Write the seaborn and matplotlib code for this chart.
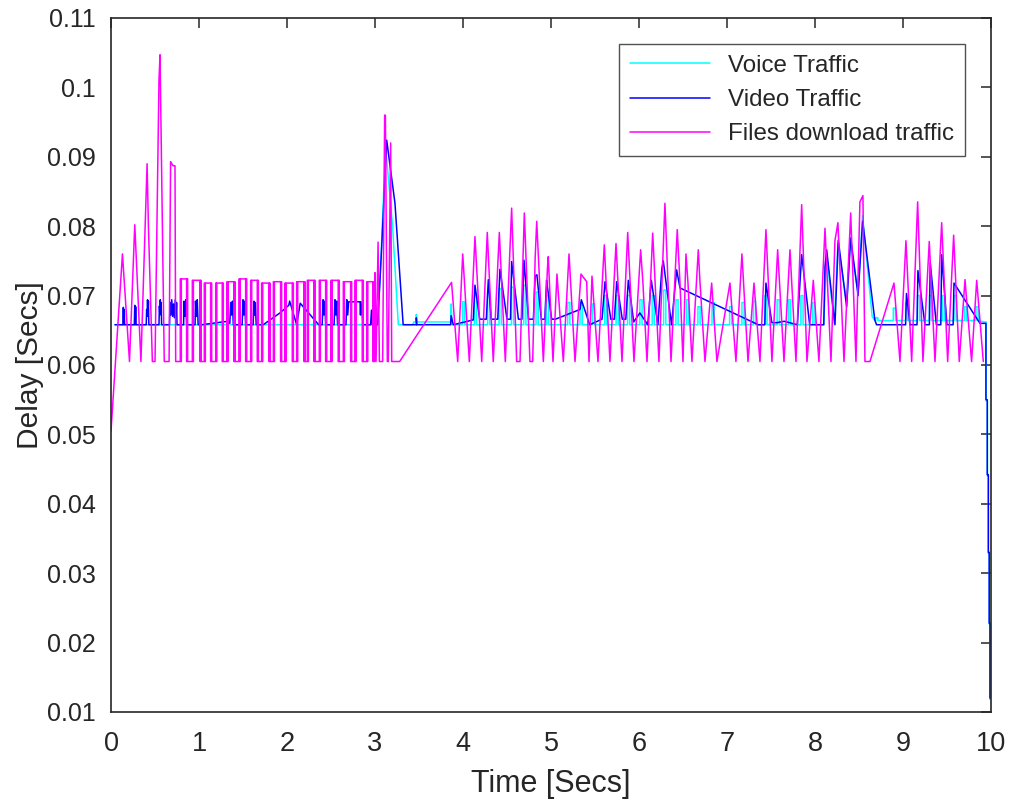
import numpy as np
import pandas as pd
import matplotlib
matplotlib.use("Agg")
import matplotlib.pyplot as plt
import seaborn as sns

# ---------------- data ----------------
# Files download traffic: initial spikes
files_t_a = [0.0, 0.13, 0.21, 0.27, 0.34, 0.41, 0.425, 0.47, 0.50, 0.545, 0.557, 0.605,
             0.66, 0.677, 0.705, 0.727, 0.735, 0.787]
files_v_a = [0.0505, 0.0760, 0.0605, 0.0802, 0.0605, 0.0890, 0.0800, 0.0605, 0.0605, 0.1010,
             0.1047, 0.0605, 0.0605, 0.0893, 0.0887, 0.0887, 0.0605, 0.0605]
# Files download traffic: square pulses between ~0.8 s and ~3 s
pulse_on = [0.787, 0.924, 1.060, 1.190, 1.318, 1.455, 1.587, 1.712, 1.845, 1.977,
            2.110, 2.231, 2.367, 2.500, 2.640, 2.773, 2.906]
pulse_off = [0.871, 1.023, 1.144, 1.276, 1.409, 1.542, 1.674, 1.807, 1.939, 2.072,
             2.205, 2.318, 2.451, 2.594, 2.735, 2.867, 2.989]
pulse_top = [0.0724, 0.0722, 0.0718, 0.0718, 0.0720, 0.0724, 0.0722, 0.0718, 0.0720, 0.0718,
             0.0720, 0.0722, 0.0722, 0.0722, 0.0720, 0.0722, 0.0720]
files_low = 0.0605
# Files download traffic: rest of the run
files_t_b = [2.995, 3.000, 3.012, 3.035, 3.050, 3.087, 3.110, 3.118, 3.140, 3.151, 3.178,
             3.190, 3.280, 3.870, 3.940, 3.997, 4.072, 4.136, 4.213, 4.276, 4.344, 4.413,
             4.481, 4.553, 4.610, 4.648, 4.697, 4.761, 4.792, 4.820, 4.838, 4.913, 4.960,
             4.969, 5.023, 5.068, 5.140, 5.205, 5.273, 5.341, 5.406, 5.432, 5.466, 5.534,
             5.606, 5.670, 5.739, 5.807, 5.872, 5.943, 6.019, 6.045, 6.091, 6.156, 6.227,
             6.295, 6.364, 6.435, 6.466, 6.500, 6.534, 6.557, 6.602, 6.674, 6.693, 6.750,
             6.826, 6.886, 7.034, 7.102, 7.170, 7.239, 7.307, 7.375, 7.443, 7.511, 7.576,
             7.648, 7.716, 7.784, 7.849, 7.909, 7.981, 8.045, 8.114, 8.182, 8.227, 8.261,
             8.330, 8.406, 8.466, 8.511, 8.545, 8.568, 8.625, 8.898, 8.966, 9.034, 9.099,
             9.167, 9.227, 9.299, 9.364, 9.440, 9.508, 9.576, 9.640, 9.705, 9.780, 9.838,
             9.913]
files_v_b = [0.0605, 0.0733, 0.0605, 0.0777, 0.0605, 0.0605, 0.0960, 0.0960, 0.0605, 0.0605,
             0.0920, 0.0605, 0.0605, 0.0719, 0.0605, 0.0760, 0.0605, 0.0785, 0.0605, 0.0791,
             0.0605, 0.0791, 0.0605, 0.0826, 0.0605, 0.0605, 0.0819, 0.0605, 0.0605, 0.0754,
             0.0807, 0.0605, 0.0740, 0.0756, 0.0605, 0.0731, 0.0605, 0.0760, 0.0605, 0.0731,
             0.0720, 0.0605, 0.0728, 0.0605, 0.0773, 0.0605, 0.0775, 0.0605, 0.0791, 0.0605,
             0.0766, 0.0718, 0.0605, 0.0790, 0.0605, 0.0833, 0.0605, 0.0795, 0.0718, 0.0605,
             0.0760, 0.0718, 0.0605, 0.0766, 0.0720, 0.0605, 0.0718, 0.0605, 0.0718, 0.0605,
             0.0760, 0.0605, 0.0718, 0.0605, 0.0795, 0.0605, 0.0766, 0.0605, 0.0766, 0.0605,
             0.0831, 0.0605, 0.0722, 0.0605, 0.0797, 0.0605, 0.0779, 0.0805, 0.0605, 0.0819,
             0.0605, 0.0835, 0.0844, 0.0605, 0.0605, 0.0718, 0.0605, 0.0779, 0.0605, 0.0835,
             0.0605, 0.0778, 0.0605, 0.0805, 0.0605, 0.0787, 0.0605, 0.0723, 0.0605, 0.0722,
             0.0605]

# Video traffic
video_t = [0.045, 0.135, 0.140, 0.145, 0.150, 0.155, 0.265, 0.270, 0.275, 0.280, 0.285,
           0.400, 0.405, 0.410, 0.415, 0.420, 0.425, 0.430, 0.545, 0.550, 0.555, 0.560,
           0.565, 0.570, 0.575, 0.665, 0.670, 0.680, 0.690, 0.700, 0.710, 0.720, 0.730,
           0.740, 0.745, 0.750, 0.825, 0.830, 0.840, 0.850, 0.860, 0.955, 0.960, 0.970,
           0.980, 0.990, 1.030, 1.330, 1.350, 1.360, 1.370, 1.380, 1.390, 1.490, 1.500,
           1.510, 1.520, 1.530, 1.615, 1.625, 1.630, 1.640, 1.650, 1.730, 1.920, 2.020,
           2.030, 2.110, 2.150, 2.360, 2.400, 2.410, 2.420, 2.430, 2.440, 2.535, 2.545,
           2.555, 2.565, 2.575, 2.670, 2.680, 2.690, 2.700, 2.830, 2.835, 2.840, 2.867,
           2.950, 2.960, 2.970, 3.030, 3.076, 3.133, 3.227, 3.320, 3.470, 3.470, 3.475,
           3.860, 3.865, 3.890, 4.117, 4.136, 4.190, 4.265, 4.288, 4.320, 4.395, 4.420,
           4.500, 4.540, 4.553, 4.630, 4.670, 4.693, 4.745, 4.800, 4.820, 4.840, 4.890,
           4.930, 4.950, 4.960, 5.008, 5.050, 5.330, 5.345, 5.440, 5.580, 5.614, 5.680,
           5.720, 5.747, 5.810, 5.850, 5.879, 5.940, 6.010, 6.100, 6.140, 6.215, 6.260,
           6.276, 6.370, 6.428, 6.466, 7.356, 7.430, 7.443, 7.510, 7.570, 7.650, 7.800,
           7.849, 7.940, 8.100, 8.114, 8.133, 8.227, 8.265, 8.360, 8.406, 8.490, 8.542,
           8.680, 8.700, 9.030, 9.040, 9.080, 9.160, 9.170, 9.250, 9.300, 9.310, 9.380,
           9.430, 9.440, 9.500, 9.570, 9.580, 9.875, 9.930, 9.943, 9.943, 9.958, 9.958,
           9.970, 9.970, 9.980, 9.980, 9.989, 9.989]
video_v = [0.0658, 0.0658, 0.0683, 0.0658, 0.0680, 0.0658, 0.0658, 0.0686, 0.0658, 0.0684,
           0.0658, 0.0658, 0.0680, 0.0670, 0.0694, 0.0672, 0.0692, 0.0658, 0.0658, 0.0685,
           0.0672, 0.0694, 0.0675, 0.0690, 0.0658, 0.0658, 0.0690, 0.0672, 0.0694, 0.0670,
           0.0688, 0.0668, 0.0694, 0.0672, 0.0690, 0.0658, 0.0658, 0.0692, 0.0670, 0.0694,
           0.0658, 0.0658, 0.0692, 0.0670, 0.0694, 0.0658, 0.0658, 0.0663, 0.0660, 0.0690,
           0.0672, 0.0692, 0.0658, 0.0658, 0.0694, 0.0672, 0.0692, 0.0658, 0.0658, 0.0692,
           0.0672, 0.0690, 0.0658, 0.0658, 0.0675, 0.0686, 0.0692, 0.0658, 0.0689, 0.0658,
           0.0658, 0.0694, 0.0672, 0.0692, 0.0658, 0.0658, 0.0694, 0.0672, 0.0692, 0.0658,
           0.0658, 0.0694, 0.0672, 0.0691, 0.0691, 0.0672, 0.0691, 0.0658, 0.0658, 0.0679,
           0.0658, 0.0658, 0.0770, 0.0924, 0.0833, 0.0658, 0.0658, 0.0668, 0.0658, 0.0658,
           0.0671, 0.0658, 0.0665, 0.0715, 0.0666, 0.0666, 0.0723, 0.0666, 0.0666, 0.0738,
           0.0666, 0.0666, 0.0749, 0.0666, 0.0666, 0.0751, 0.0666, 0.0666, 0.0728, 0.0730,
           0.0666, 0.0666, 0.0722, 0.0712, 0.0666, 0.0666, 0.0680, 0.0694, 0.0658, 0.0666,
           0.0720, 0.0666, 0.0666, 0.0720, 0.0666, 0.0666, 0.0722, 0.0662, 0.0675, 0.0658,
           0.0722, 0.0658, 0.0739, 0.0750, 0.0658, 0.0737, 0.0711, 0.0658, 0.0658, 0.0718,
           0.0661, 0.0661, 0.0663, 0.0658, 0.0759, 0.0658, 0.0658, 0.0742, 0.0766, 0.0658,
           0.0780, 0.0684, 0.0783, 0.0700, 0.0807, 0.0665, 0.0658, 0.0658, 0.0703, 0.0658,
           0.0658, 0.0736, 0.0658, 0.0658, 0.0747, 0.0658, 0.0658, 0.0759, 0.0658, 0.0658,
           0.0718, 0.0660, 0.0660, 0.0660, 0.0550, 0.0550, 0.0442, 0.0442, 0.0330, 0.0330,
           0.0228, 0.0228, 0.0120]

# Voice traffic: base path
voice_t = [0.045, 3.030, 3.060, 3.120, 3.200, 3.265, 3.430, 3.440, 3.465, 3.470, 3.475,
           3.860, 3.865, 3.875, 8.100, 8.130, 8.220, 8.260, 8.360, 8.400, 8.490, 8.540,
           8.650, 8.680, 9.930, 9.945, 9.945, 9.960, 9.960, 9.972, 9.972, 9.982, 9.982,
           9.990, 9.990]
voice_v = [0.0658, 0.0658, 0.0730, 0.0915, 0.0800, 0.0658, 0.0658, 0.0662, 0.0662, 0.0673,
           0.0662, 0.0662, 0.0688, 0.0658, 0.0658, 0.0760, 0.0660, 0.0775, 0.0690, 0.0778,
           0.0705, 0.0815, 0.0670, 0.0664, 0.0662, 0.0662, 0.0548, 0.0548, 0.0440, 0.0440,
           0.0328, 0.0328, 0.0226, 0.0226, 0.0118]
# Voice traffic: short bursts above the base level
voice_burst_t = [3.995, 4.130, 4.280, 4.410, 4.550, 4.690, 4.830, 4.950, 5.190, 5.330,
                 5.470, 5.610, 5.740, 5.870, 6.010, 6.150, 6.280, 6.420, 6.540, 6.670,
                 6.830, 7.030, 7.170, 7.300, 7.430, 7.570, 7.700, 7.840, 7.975, 8.690,
                 8.890, 9.030, 9.165, 9.300, 9.450, 9.580, 9.700, 9.830]
voice_burst_v = [0.0691, 0.0700, 0.0705, 0.0710, 0.0712, 0.0715, 0.0705, 0.0700, 0.0690,
                 0.0690, 0.0688, 0.0700, 0.0700, 0.0700, 0.0694, 0.0700, 0.0708, 0.0694,
                 0.0694, 0.0684, 0.0690, 0.0684, 0.0690, 0.0692, 0.0700, 0.0694, 0.0694,
                 0.0700, 0.0690, 0.0668, 0.0682, 0.0690, 0.0700, 0.0700, 0.0700, 0.0700,
                 0.0684, 0.0684]

x_ticks = [0, 1, 2, 3, 4, 5, 6, 7, 8, 9, 10]
y_ticks = [0.01, 0.02, 0.03, 0.04, 0.05, 0.06, 0.07, 0.08, 0.09, 0.10, 0.11]
y_tick_labels = ["0.01", "0.02", "0.03", "0.04", "0.05", "0.06", "0.07", "0.08", "0.09",
                 "0.1", "0.11"]
labels = ["Voice Traffic", "Video Traffic", "Files download traffic"]

# ---------------- assemble line paths ----------------
ft, fv = list(files_t_a), list(files_v_a)
d = 0.006  # doubled pulse edges, as in the reference rendering
for on, off, top in zip(pulse_on, pulse_off, pulse_top):
    ft += [on, on, on + d, on + d, on + 2 * d, on + 2 * d,
           off - 2 * d, off - 2 * d, off - d, off - d, off, off]
    fv += [files_low, top, top, files_low, files_low, top,
           top, files_low, files_low, top, top, files_low]
ft += files_t_b
fv += files_v_b
files_df = pd.DataFrame({"t": ft, "v": fv})

video_df = pd.DataFrame({"t": video_t, "v": video_v})

bw = 0.025
vt, vv = [], []
bursts = list(zip(voice_burst_t, voice_burst_v))
bi = 0
for t, v in zip(voice_t, voice_v):
    while bi < len(bursts) and bursts[bi][0] < t and (not vt or bursts[bi][0] > vt[-1]):
        bt, bh = bursts[bi]
        base = vv[-1] if vv else 0.0658
        vt += [bt, bt, bt + bw, bt + bw]
        vv += [base, bh, bh, base]
        bi += 1
    vt.append(t)
    vv.append(v)
voice_df = pd.DataFrame({"t": vt, "v": vv})

# ---------------- plot ----------------
sns.set_theme(style="white")
plt.rcParams["font.family"] = ["Liberation Sans", "DejaVu Sans"]

fig = plt.figure(figsize=(10.12, 7.99), dpi=100)
ax = fig.add_axes([0.1097, 0.1089, 0.8695, 0.8686])

lw = 1.1
sns.lineplot(data=voice_df, x="t", y="v", estimator=None, sort=False, color="#00FFFF",
             lw=lw, label=labels[0], ax=ax)
sns.lineplot(data=video_df, x="t", y="v", estimator=None, sort=False, color="#0000FF",
             lw=lw, label=labels[1], ax=ax)
sns.lineplot(data=files_df, x="t", y="v", estimator=None, sort=False, color="#FF00FF",
             lw=lw, label=labels[2], ax=ax)

ax.set_xlim(0, 10)
ax.set_ylim(0.01, 0.11)
ax.set_xticks(x_ticks)
ax.set_xticklabels([str(x) for x in x_ticks], fontsize=19.5)
ax.set_yticks(y_ticks)
ax.set_yticklabels(y_tick_labels, fontsize=18)

for s in ax.spines.values():
    s.set_visible(True)
    s.set_color("#262626")
    s.set_linewidth(1.2)
ax.tick_params(direction="in", length=7, width=1.1, color="#262626", top=True, right=True,
               labelcolor="#262626")
ax.tick_params(axis="x", pad=14)
ax.tick_params(axis="y", pad=11)

ax.set_xlabel("Time [Secs]", fontsize=22, color="#262626", labelpad=8)
ax.set_ylabel("Delay [Secs]", fontsize=21.5, color="#262626")
ax.yaxis.set_label_coords(-0.076, 0.5)

leg = ax.legend(loc="upper right", bbox_to_anchor=(0.970, 0.9625), borderaxespad=0,
                frameon=True, fancybox=False, edgecolor="#262626", fontsize=17.4,
                handlelength=3.3, handletextpad=0.75, labelspacing=0.5, borderpad=0.45)
leg.get_frame().set_linewidth(1.0)
for txt in leg.get_texts():
    txt.set_color("#262626")

fig.savefig("out.png", dpi=100)
